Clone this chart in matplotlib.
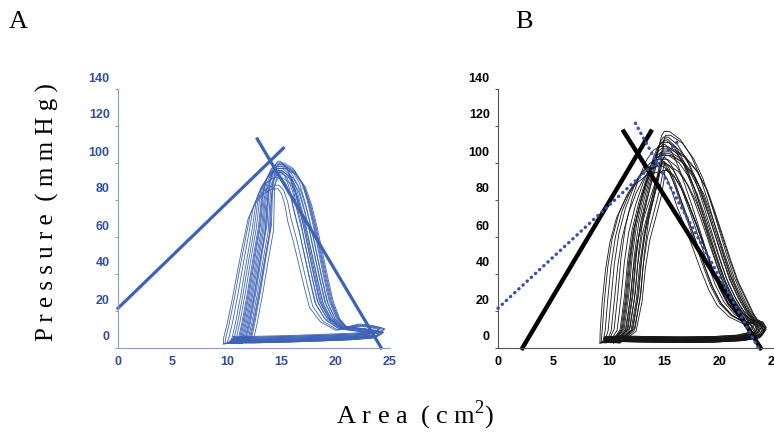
import numpy as np
import matplotlib.pyplot as plt
import matplotlib.transforms as mtransforms

plt.rcParams['mathtext.fontset'] = 'custom'
plt.rcParams['mathtext.rm'] = 'Liberation Serif'

# ---- panel A: template loop (area cm2, pressure mmHg) ----
a_left_x = [10.0, 10.2, 10.5, 11.0, 11.5, 12.0, 12.4, 12.9, 13.6, 14.3]
a_left_y = [2.5, 6, 14, 30, 48, 65, 80, 89, 95, 98]
a_right_x = [15.2, 16.0, 16.7, 17.2, 17.7, 18.2, 18.7, 19.2, 19.9, 20.8]
a_right_y = [98, 95, 88, 78, 66, 52, 38, 25, 16, 11]
a_tail_x = [22.0, 23.3, 24.0, 23.6, 21.5, 18.5, 15.5, 12.5, 10.6]
a_tail_y = [9.5, 8.5, 7.5, 5.5, 4.5, 3.8, 3.2, 2.8, 2.8]

# per-beat variation
a_dl = [-0.5, -0.3, 0.0, 0.3, 0.5, 0.7, 0.9, 1.0, 1.1, 1.2,
        1.3, 1.4, 1.5, 1.6, 1.7, 1.8, 1.9, 2.0, 2.1, 2.3]
a_dr = [-1.6, -1.3, -1.0, -0.8, -0.6, -0.4, -0.2, 0.0, 0.2, 0.4,
        0.6, -0.5, -0.1, 0.3, -0.9, 0.1, -0.3, 0.5, -0.7, -1.1]
a_peak = [86, 88, 92, 95, 96, 97, 98, 99, 100, 98,
          97, 96, 94, 99, 101, 95, 92, 97, 100, 96]
a_floor = [0.5, 1.5, 0.0, 2.5, 1.0, 3.0, 0.5, 1.5, 3.5, 1.0,
           2.0, 0.0, 1.0, 2.5, 1.5, 0.5, 2.0, 3.0, 1.0, 0.0]
a_tip = [-1.2, -0.8, -0.4, 0.0, 0.3, 0.5, -0.6, -0.2, 0.2, 0.4,
         -1.0, 0.1, -0.3, 0.5, -0.5, 0.3, -0.9, 0.0, 0.4, -0.1]

# ---- panel B: template loop ----
b_left_x = [9.3, 9.4, 9.6, 9.9, 10.3, 10.9, 11.7, 12.6, 13.5, 14.3]
b_left_y = [3, 10, 28, 48, 65, 80, 92, 101, 106, 108]
b_right_x = [15.3, 16.1, 16.9, 17.6, 18.3, 19.0, 19.7, 20.4, 21.2, 22.0, 22.8]
b_right_y = [108, 104, 96, 86, 74, 61, 48, 36, 26, 19, 15]
b_tail_x = [23.5, 23.8, 23.4, 22.0, 19.5, 16.5, 13.5, 11.0, 9.6]
b_tail_y = [12, 9, 5.5, 4, 3.2, 3.0, 3.2, 3.5, 3]

b_dl = [-0.2, 0.0, 0.3, 0.6, 1.5, 1.8, 2.0, 2.2, 2.4, 2.6, 2.8, 3.0,
        3.2, 3.4, 1.2, 2.1, 2.5, 2.9, 3.1, 0.9, 1.9, 2.7, 3.3, 2.3]
b_dr = [-1.4, -1.0, -0.5, 0.0, 0.4, 0.8, 1.2, -0.7, -0.2, 0.2, 0.6, 1.0,
        -1.2, -0.4, 0.1, 0.5, 1.3, -0.8, -0.1, 0.3, 0.7, -1.1, 0.9, -0.3]
b_peak = [95, 98, 100, 102, 104, 106, 108, 110, 112, 114, 117, 104,
          100, 97, 109, 111, 107, 103, 113, 99, 105, 101, 115, 96]
b_floor = [0.5, 1.5, 0.0, 2.0, 1.0, 2.5, 0.5, 1.5, 3.0, 1.0, 2.0, 0.0,
           1.0, 2.5, 1.5, 0.5, 2.0, 3.0, 1.0, 0.0, 1.5, 2.5, 0.5, 2.0]
b_tip = [-0.6, -0.2, 0.2, 0.4, -0.4, 0.0, 0.3, -0.8, 0.1, 0.4, -0.3, 0.2,
         -1.0, -0.5, 0.3, 0.0, 0.4, -0.7, 0.1, -0.2, 0.3, -0.9, 0.2, -0.4]

# how much of the beat shift each template point takes
a_left_w = [0.6, 1, 1, 1, 1, 1, 0.85, 0.65, 0.45, 0.25]
a_right_w = [0.3, 0.6, 0.85, 1, 1, 1, 1, 1, 0.8, 0.5]
b_left_w = [0.5, 0.9, 1, 1, 1, 1, 0.9, 0.7, 0.45, 0.25]
b_right_w = [0.3, 0.6, 0.85, 1, 1, 1, 1, 1, 1, 0.8, 0.5]
tail_w = [1, 1, 1, 0.6, 0, 0, 0, 0, 0]

# straight lines ([x0, x1], [y0, y1])
a_line1 = ([0, 15.2], [21.5, 108])
a_line2 = ([12.8, 24.2], [113, 0])
b_solid1 = ([2.2, 13.8], [0, 117])
b_solid2 = ([11.35, 23.7], [117, 0])
b_dot1 = ([0, 16.3], [21.5, 112])
b_dot2 = ([12.4, 23.5], [121.5, 0])

yticks = [0, 20, 40, 60, 80, 100, 120, 140]
xticks = [0, 5, 10, 15, 20, 25]

fig = plt.figure(figsize=(7.74, 4.37), dpi=100)
axA = fig.add_axes([118 / 774, 1 - 348 / 437, 272 / 774, 259 / 437])
axB = fig.add_axes([498 / 774, 1 - 348 / 437, 277 / 774, 259 / 437])


def build_loop(lx, ly, lw_, rx, ry, rw, tx, ty, dl, dr, tip, peak, floor, p0):
    s = peak / p0
    xs = [x + dl * w for x, w in zip(lx, lw_)]
    ys = [y * s for y in ly]
    xs += [x + dr * w for x, w in zip(rx, rw)]
    ys += [y * s for y in ry]
    xs += [x + tip * w for x, w in zip(tx, tail_w)]
    ys += [y + floor for y in ty]
    xs.append(xs[0])
    ys.append(ys[0])
    return xs, ys


blue = '#3d62b6'
for dl, dr, tp, pk, fl in zip(a_dl, a_dr, a_tip, a_peak, a_floor):
    xs, ys = build_loop(a_left_x, a_left_y, a_left_w, a_right_x, a_right_y, a_right_w,
                        a_tail_x, a_tail_y, dl, dr, tp, pk, fl, 98)
    axA.plot(xs, ys, color=blue, lw=0.6, clip_on=False)
axA.plot(*a_line1, color=blue, lw=2.3, clip_on=False)
axA.plot(*a_line2, color=blue, lw=2.3, clip_on=False)

for dl, dr, tp, pk, fl in zip(b_dl, b_dr, b_tip, b_peak, b_floor):
    xs, ys = build_loop(b_left_x, b_left_y, b_left_w, b_right_x, b_right_y, b_right_w,
                        b_tail_x, b_tail_y, dl, dr, tp, pk, fl, 108)
    axB.plot(xs, ys, color='#151515', lw=0.6, clip_on=False)
axB.plot(*b_solid1, color='black', lw=3.2, clip_on=False)
axB.plot(*b_solid2, color='black', lw=3.2, clip_on=False)
dotblue = '#3550a8'
axB.plot(*b_dot1, color=dotblue, lw=2.4, ls=(0, (0.1, 1.6)), dash_capstyle='round', clip_on=False)
axB.plot(*b_dot2, color=dotblue, lw=2.4, ls=(0, (0.1, 1.6)), dash_capstyle='round', clip_on=False)

# labels sit a bit above their ticks in the original
shift = mtransforms.ScaledTranslation(0, 12 / 100, fig.dpi_scale_trans)
for ax, tcol, scol in [(axA, '#2f4f9c', '#8e9cc2'), (axB, 'black', '#555555')]:
    ax.set_xlim(0, 25)
    ax.set_ylim(0, 140)
    ax.set_xticks(xticks)
    ax.set_yticks(yticks)
    for side in ['top', 'right']:
        ax.spines[side].set_visible(False)
    for side in ['left', 'bottom']:
        ax.spines[side].set_color(scol)
        ax.spines[side].set_linewidth(0.8)
    ax.tick_params(axis='x', length=0, pad=6, labelcolor=tcol)
    ax.tick_params(axis='y', length=2.5, width=0.8, color=scol, pad=3.5, labelcolor=tcol)
    for lab in ax.get_xticklabels() + ax.get_yticklabels():
        lab.set_fontfamily('Liberation Sans')
        lab.set_fontweight('bold')
        lab.set_fontsize(9)
    for t in ax.yaxis.get_major_ticks():
        t.label1.set_transform(t.label1.get_transform() + shift)

fig.text(18 / 774, 1 - 22 / 437, 'A', family='Liberation Serif', fontsize=19,
         ha='center', va='center')
fig.text(524 / 774, 1 - 22 / 437, 'B', family='Liberation Serif', fontsize=19,
         ha='center', va='center')
fig.text(47 / 774, 1 - 212 / 437, 'P r e s s u r e  ( m m H g )', family='Liberation Serif',
         fontsize=18, rotation=90, ha='center', va='center')
fig.text(415 / 774, 1 - 415 / 437, 'A r e a  ( c m$^{2}$)', family='Liberation Serif',
         fontsize=19, ha='center', va='center')

fig.savefig('out.png', dpi=100)
